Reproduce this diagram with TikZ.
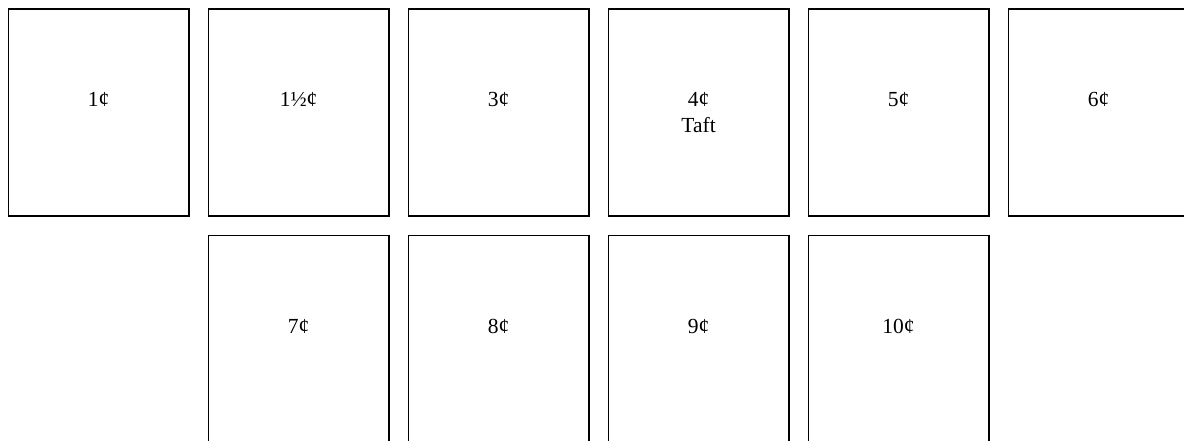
\documentclass[tikz,border=0pt]{standalone}
\usepackage{fontspec}
\setmainfont{Liberation Serif}
\begin{document}
\begin{tikzpicture}[x=1pt,y=-1pt,
  stamp/.style={draw=black,line width=1.7pt,rectangle,minimum width=180.5pt,anchor=north west,inner sep=0pt},
  tall/.style={stamp,minimum height=207pt},
  lower/.style={stamp,minimum height=215pt},
  lbl/.style={anchor=base,inner sep=0pt,font=\fontsize{21.5}{26}\selectfont}]
\useasboundingbox (0,0) rectangle (1184,440);
\clip (0,0) rectangle (1184,440);
\fill[white] (0,0) rectangle (1184,440);
\node[tall] (s1) at (7.5,8.3) {};
\node[tall] (s2) at (207.5,8.3) {};
\node[tall] (s3) at (407.5,8.3) {};
\node[tall] (s4) at (607.5,8.3) {};
\node[tall] (s5) at (807.5,8.3) {};
\node[tall] (s6) at (1007.5,8.3) {};
\node[lower] (s7) at (207.5,234.7) {};
\node[lower] (s8) at (407.5,234.7) {};
\node[lower] (s9) at (607.5,234.7) {};
\node[lower] (s10) at (807.5,234.7) {};
\node[lbl] (l1) at ([yshift=-98.5pt]s1.north) {1¢};
\node[lbl] (l2) at ([yshift=-98.5pt]s2.north) {1½¢};
\node[lbl] (l3) at ([yshift=-98.5pt]s3.north) {3¢};
\node[lbl] (l4) at ([yshift=-98.5pt]s4.north) {\setlength{\tabcolsep}{0pt}\begin{tabular}[t]{c}4¢\\Taft\end{tabular}};
\node[lbl] (l5) at ([yshift=-98.5pt]s5.north) {5¢};
\node[lbl] (l6) at ([yshift=-98.5pt]s6.north) {6¢};
\node[lbl] (l7) at ([yshift=-98.5pt]s7.north) {7¢};
\node[lbl] (l8) at ([yshift=-98.5pt]s8.north) {8¢};
\node[lbl] (l9) at ([yshift=-98.5pt]s9.north) {9¢};
\node[lbl] (l10) at ([yshift=-98.5pt]s10.north) {10¢};
\end{tikzpicture}
\end{document}
